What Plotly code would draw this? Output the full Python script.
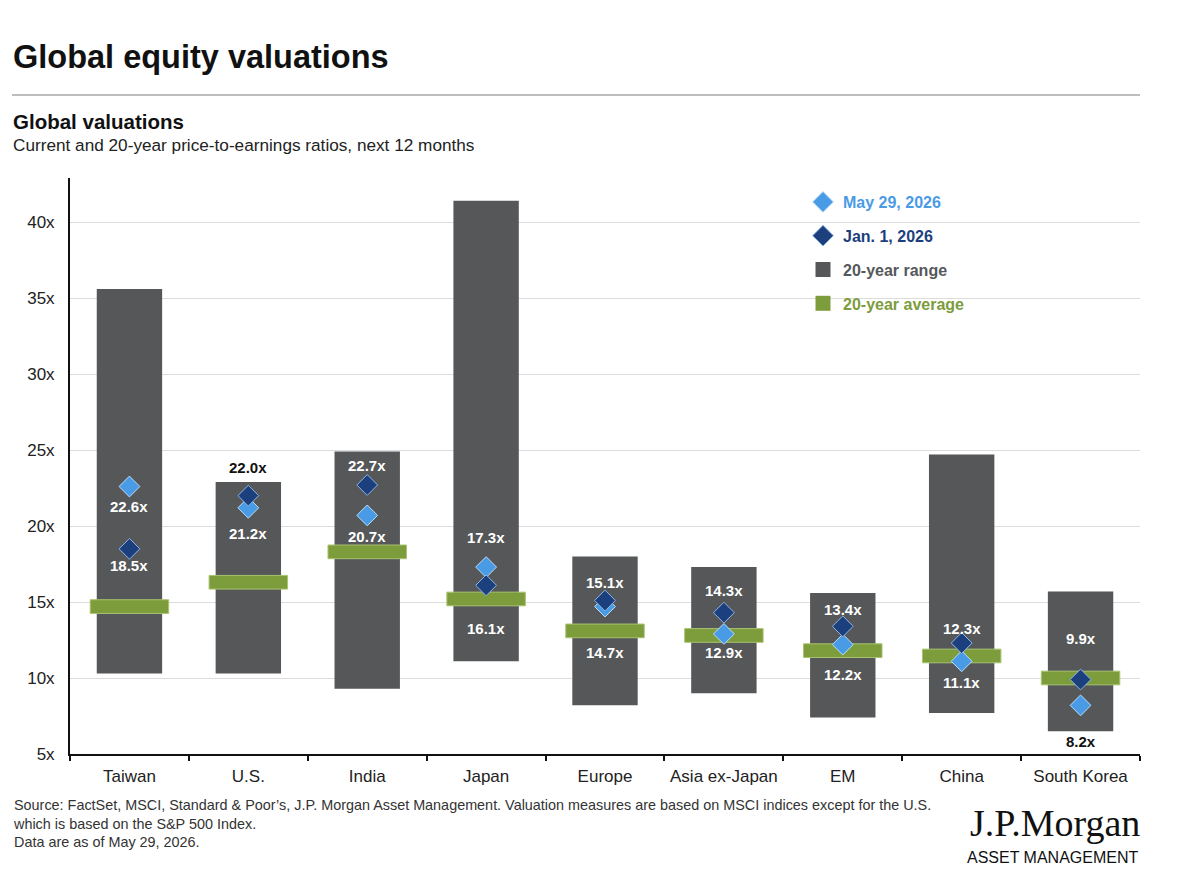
import plotly.graph_objects as go

categories = ["Taiwan", "U.S.", "India", "Japan", "Europe", "Asia ex-Japan", "EM", "China", "South Korea"]
range_high = [35.6, 22.9, 24.9, 41.4, 18.0, 17.3, 15.6, 24.7, 15.7]
range_low = [10.3, 10.3, 9.3, 11.1, 8.2, 9.0, 7.4, 7.7, 6.5]
avg_20y = [14.7, 16.3, 18.3, 15.2, 13.1, 12.8, 11.8, 11.45, 10.0]
may_2026 = [22.6, 21.2, 20.7, 17.3, 14.7, 12.9, 12.2, 11.1, 8.2]
jan_2026 = [18.5, 22.0, 22.7, 16.1, 15.1, 14.3, 13.4, 12.3, 9.9]
y_ticks = [5, 10, 15, 20, 25, 30, 35, 40]
y_tick_text = ["5x", "10x", "15x", "20x", "25x", "30x", "35x", "40x"]

# label placement (pixel shifts, style only)
may_shift = [-20, -26, -21, 30, -46, -19, -30, -21, -36]
jan_shift = [-17, 28, 20, -43, 18, 22, 17, 15, 41]
may_dark = [False, False, False, False, False, False, False, False, True]
jan_dark = [False, True, False, False, False, False, False, False, False]

GRAY = "#555759"
GREEN = "#7d9c3c"
LIGHT = "#4a9be6"
DARK = "#1c3f7e"
FONT = "Arial, Liberation Sans, sans-serif"

W, H = 1200, 869
L, R, T, B = 70, 60, 178, 115
PW, PH = W - L - R, H - T - B


def px(x):
    return (x - L) / PW


def py(y):
    return (H - B - y) / PH


AVG_H = 0.9
fig = go.Figure()
fig.add_trace(go.Bar(
    x=categories, y=[h - l for h, l in zip(range_high, range_low)], base=range_low,
    width=0.55, marker=dict(color=GRAY, line=dict(width=0)), showlegend=False, hoverinfo="skip"))
fig.add_trace(go.Bar(
    x=categories, y=[AVG_H] * len(categories), base=[a - AVG_H / 2 for a in avg_20y],
    width=0.66, marker=dict(color=GREEN, line=dict(width=1, color="#a9c370")),
    showlegend=False, hoverinfo="skip"))
fig.add_trace(go.Scatter(
    x=categories, y=may_2026, mode="markers",
    marker=dict(symbol="diamond", size=16, color=LIGHT, line=dict(width=1, color="#bcdcf8")),
    name="<b><span style='color:#4a9be6'>May 29, 2026</span></b>", legendrank=1, legendgroup="a",
    hoverinfo="skip"))
fig.add_trace(go.Scatter(
    x=categories, y=jan_2026, mode="markers",
    marker=dict(symbol="diamond", size=16, color=DARK, line=dict(width=1, color="#8fb6e6")),
    name="<b><span style='color:#1c3f7e'>Jan. 1, 2026</span></b>", legendrank=2, legendgroup="b",
    hoverinfo="skip"))
# legend-only entries for the bar series
fig.add_trace(go.Scatter(
    x=[None], y=[None], mode="markers", marker=dict(symbol="square", size=15, color=GRAY),
    name="<b><span style='color:#55585b'>20-year range</span></b>", legendrank=3, legendgroup="c"))
fig.add_trace(go.Scatter(
    x=[None], y=[None], mode="markers", marker=dict(symbol="square", size=15, color=GREEN),
    name="<b><span style='color:#7d9c3c'>20-year average</span></b>", legendrank=4, legendgroup="d"))

annotations = []
for i, c in enumerate(categories):
    for val, sh, dk in ((may_2026[i], may_shift[i], may_dark[i]), (jan_2026[i], jan_shift[i], jan_dark[i])):
        annotations.append(dict(
            x=c, y=val, xref="x", yref="y", text=f"<b>{val:.1f}x</b>", showarrow=False,
            yshift=sh, font=dict(size=15, color="#111111" if dk else "#ffffff", family=FONT)))

annotations += [
    dict(x=px(11), y=py(57), xref="paper", yref="paper", xanchor="left", yanchor="middle",
         text="<b>Global equity valuations</b>", showarrow=False,
         font=dict(size=32.5, color="#111111", family=FONT)),
    dict(x=px(11), y=py(122), xref="paper", yref="paper", xanchor="left", yanchor="middle",
         text="<b>Global valuations</b>", showarrow=False,
         font=dict(size=20.5, color="#111111", family=FONT)),
    dict(x=px(11), y=py(145), xref="paper", yref="paper", xanchor="left", yanchor="middle",
         text="Current and 20-year price-to-earnings ratios, next 12 months", showarrow=False,
         font=dict(size=17.2, color="#222222", family=FONT)),
    dict(x=px(11), y=py(795), xref="paper", yref="paper", xanchor="left", yanchor="top", align="left",
         text=("Source: FactSet, MSCI, Standard &amp; Poor’s, J.P. Morgan Asset Management. Valuation measures are based on MSCI indices except for the U.S.<br>"
               "which is based on the S&amp;P 500 Index.<br>Data are as of May 29, 2026."),
         showarrow=False,
         font=dict(size=14.4, color="#333333", family=FONT)),
    dict(x=px(1142), y=py(823), xref="paper", yref="paper", xanchor="right", yanchor="middle",
         text="J.P.Morgan", showarrow=False,
         font=dict(size=38, color="#111111", family="Liberation Serif, Times New Roman, serif")),
    dict(x=px(1141), y=py(857), xref="paper", yref="paper", xanchor="right", yanchor="middle",
         text="ASSET MANAGEMENT", showarrow=False,
         font=dict(size=16, color="#111111", family=FONT)),
]

shapes = [dict(type="line", xref="paper", yref="paper", x0=px(12), x1=px(1140), y0=py(95), y1=py(95),
               line=dict(color="#bdbdbd", width=2))]

fig.update_layout(
    width=W, height=H, margin=dict(l=L, r=R, t=T, b=B),
    paper_bgcolor="white", plot_bgcolor="white",
    barmode="overlay", showlegend=True,
    legend=dict(x=px(803), y=py(185), xanchor="left", yanchor="top", traceorder="grouped",
                tracegroupgap=10, font=dict(size=16, family=FONT),
                bgcolor="rgba(0,0,0,0)", itemsizing="trace"),
    font=dict(family=FONT, color="#222222"),
    annotations=annotations, shapes=shapes,
    xaxis=dict(type="category", range=[-0.5, 8.5], showline=True, linecolor="#111111", linewidth=2,
               ticks="outside", tickson="boundaries", ticklen=5, tickcolor="#111111", tickwidth=1.5,
               showgrid=False, tickfont=dict(size=17, color="#222222"), ticklabelstandoff=6),
    yaxis=dict(range=[5, 42.9], tickvals=y_ticks, ticktext=y_tick_text, showline=True, linecolor="#111111",
               linewidth=2, showgrid=True, gridcolor="#dcdcdc", gridwidth=1, zeroline=False,
               ticks="", tickfont=dict(size=17, color="#222222"), ticklabelstandoff=10),
)

fig.write_html("out.html")
